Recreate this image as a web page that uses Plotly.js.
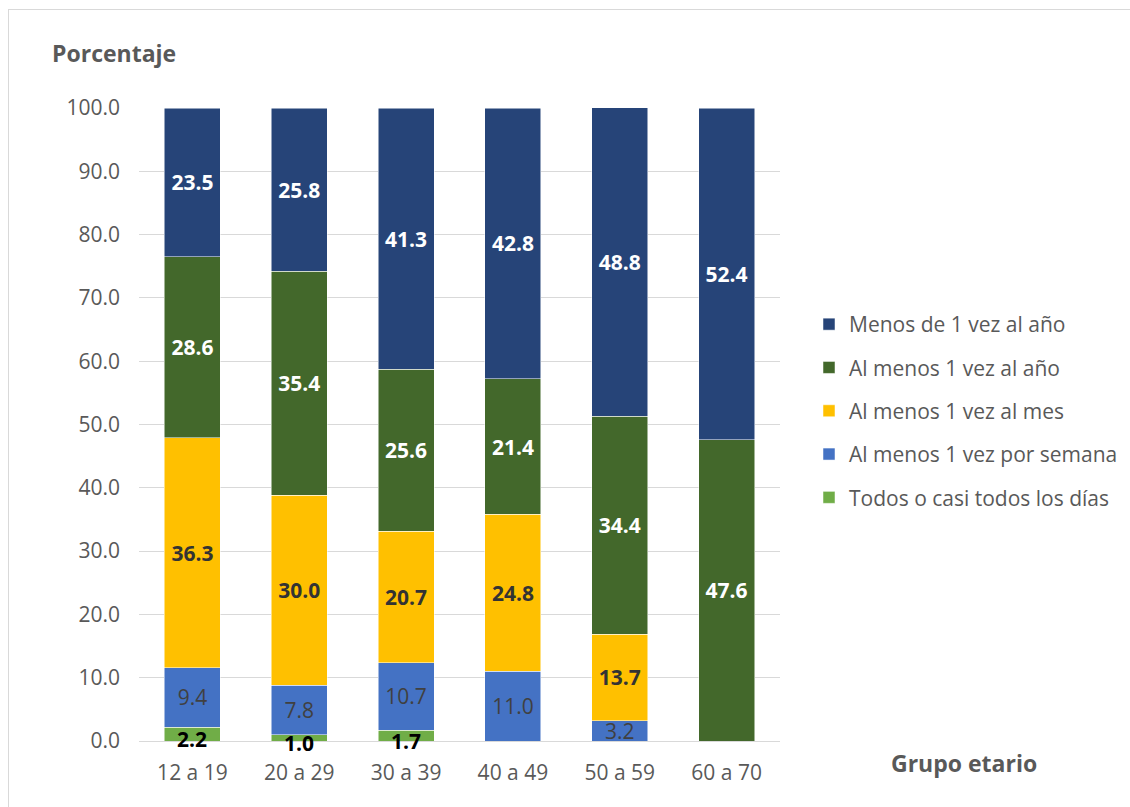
<!DOCTYPE html>
<html><head><meta charset="utf-8">
<script src="https://cdn.plot.ly/plotly-3.0.1.min.js"></script>
<style>
html,body{margin:0;padding:0;background:#fff;}
#chart{width:1130px;height:807px;position:relative;}
#frame{position:absolute;left:8px;top:9px;width:1130px;height:805px;border:1px solid #d9d9d9;pointer-events:none;box-sizing:border-box;}
</style></head>
<body>
<div id="chart"></div>
<div id="frame"></div>
<script>
const categories = ["12 a 19","20 a 29","30 a 39","40 a 49","50 a 59","60 a 70"];
const todosDias   = [2.2, 1.0, 1.7, 0, 0, 0];
const porSemana   = [9.4, 7.8, 10.7, 11.0, 3.2, 0];
const alMes       = [36.3, 30.0, 20.7, 24.8, 13.7, 0];
const alAnio      = [28.6, 35.4, 25.6, 21.4, 34.4, 47.6];
const menosAnio   = [23.5, 25.8, 41.3, 42.8, 48.8, 52.4];
const seriesNames = ["Todos o casi todos los días","Al menos 1 vez por semana","Al menos 1 vez al mes","Al menos 1 vez al año","Menos de 1 vez al año"];

const FONT = "Open Sans, Roboto, sans-serif";
const LS = 21;
const lbl = v => v.map(x => x > 0 ? x.toFixed(1) : "");

function bar(name, y, color, tfont, showText, rank){
  return {
    type:"bar", name:name, x:categories, y:y, legendgroup:name, legendrank:rank,
    marker:{color:color, line:{color:"#ffffff", width:0.5}},
    text: showText ? lbl(y) : undefined,
    textposition: showText ? "inside" : "none",
    insidetextanchor:"middle", textangle:0, constraintext:"none",
    textfont:tfont, hoverinfo:"x+y+name"
  };
}

const traces = [
  bar(seriesNames[0], todosDias, "#70AD47", {}, false, 5),
  bar(seriesNames[1], porSemana, "#4472C4", {family:FONT, size:LS, color:"#404040"}, true, 4),
  bar(seriesNames[2], alMes, "#FFC000", {family:FONT, size:LS, color:"#333333", weight:"bold"}, true, 3),
  bar(seriesNames[3], alAnio, "#43682B", {family:FONT, size:LS, color:"#ffffff", weight:"bold"}, true, 2),
  bar(seriesNames[4], menosAnio, "#264478", {family:FONT, size:LS, color:"#ffffff", weight:"bold"}, true, 1)
];

const greenAnn = categories.map((c,i) => todosDias[i] > 0 ? {
  x:c, y:todosDias[i]/2, xref:"x", yref:"y", text:"<b>"+todosDias[i].toFixed(1)+"</b>",
  showarrow:false, yshift:-5, font:{family:FONT, size:LS, color:"#000000"}
} : null).filter(a => a);

const layout = {
  width:1130, height:807,
  margin:{l:139, r:350, t:108, b:66, pad:0},
  paper_bgcolor:"#ffffff", plot_bgcolor:"#ffffff",
  barmode:"stack", bargap:0.475,
  font:{family:FONT, size:21, color:"#595959"},
  title:{text:"<b>Porcentaje</b>", xref:"container", yref:"container", x:52/1130, xanchor:"left",
         y:1-54/807, yanchor:"middle", font:{family:FONT, size:23, color:"#595959"}},
  xaxis:{type:"category", showgrid:false, zeroline:false, showline:false, ticks:"",
         tickfont:{family:FONT, size:21, color:"#595959"}, ticklabelstandoff:17, fixedrange:true},
  yaxis:{range:[0,100], dtick:10, tickformat:".1f", showgrid:true, gridcolor:"#d9d9d9", gridwidth:1,
         zeroline:true, zerolinecolor:"#d9d9d9", zerolinewidth:1, showline:false, ticks:"",
         tickfont:{family:FONT, size:21, color:"#595959"}, ticklabelstandoff:18, fixedrange:true},
  legend:{x:809/1130, xref:"container", y:1-304/807, yref:"container", xanchor:"left", yanchor:"top",
          traceorder:"grouped", tracegroupgap:13, font:{family:FONT, size:21, color:"#595959"},
          itemwidth:30, bgcolor:"rgba(0,0,0,0)"},
  annotations:[
    ...greenAnn,
    {text:"<b>Grupo etario</b>", xref:"paper", yref:"paper", x:(964-139)/641, y:(741-763)/633,
     showarrow:false, font:{family:FONT, size:23, color:"#595959"}, xanchor:"center", yanchor:"middle"}
  ]
};
Plotly.newPlot("chart", traces, layout, {displayModeBar:false, staticPlot:true});
</script>
</body></html>
